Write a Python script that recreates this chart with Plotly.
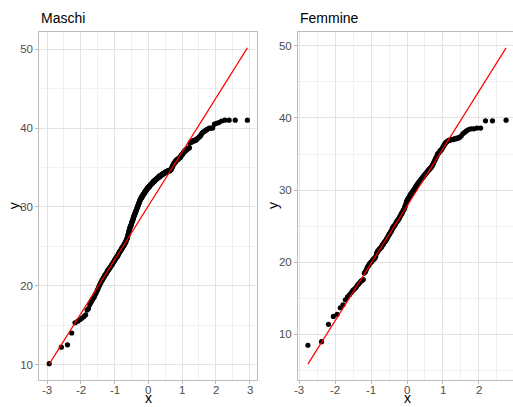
import numpy as np
import plotly.graph_objects as go
from statistics import NormalDist

# Sample values (sorted) for the two groups
maschi = [
    10.1, 12.2, 12.5, 14.0, 15.3, 15.5, 15.7, 15.9, 16.1, 16.3,
    16.9, 17.1, 17.6, 17.9, 18.2, 18.4, 18.6, 18.9, 19.1, 19.4,
    19.6, 19.9, 20.1, 20.3, 20.5,
    20.7, 20.8, 21.0, 21.1, 21.3,
    21.4, 21.5, 21.6, 21.8, 21.9, 22.0, 22.1, 22.2, 22.3, 22.4,
    22.5, 22.6, 22.7, 22.8, 22.9, 23.0, 23.1, 23.2, 23.3, 23.4,
    23.5, 23.6, 23.6, 23.7, 23.8, 23.9, 24.0, 24.1, 24.2, 24.3,
    24.4, 24.4, 24.5, 24.6, 24.7, 24.8, 24.8, 24.9, 25.0, 25.1,
    25.1, 25.2, 25.3, 25.4, 25.5, 25.5, 25.7, 25.8, 25.9, 26.0,
    26.1, 26.3, 26.5, 26.6, 26.8, 27.0, 27.1, 27.3, 27.4, 27.5,
    27.6, 27.7, 27.8, 28.0, 28.1, 28.2, 28.3, 28.4, 28.6, 28.7,
    28.8, 28.9, 29.0, 29.1, 29.2, 29.3, 29.4, 29.5, 29.6, 29.7,
    29.8, 29.9, 30.0, 30.1, 30.2, 30.3, 30.4, 30.5, 30.6, 30.7,
    30.8, 30.9, 31.0, 31.0, 31.1, 31.2, 31.2, 31.3, 31.3, 31.4,
    31.5, 31.5, 31.6, 31.6, 31.7, 31.7, 31.8, 31.9, 31.9, 32.0,
    32.0, 32.1, 32.1, 32.2, 32.2, 32.3, 32.3, 32.4, 32.4, 32.5,
    32.5, 32.5, 32.6, 32.6, 32.6, 32.7, 32.7, 32.8, 32.8, 32.9,
    32.9, 32.9, 33.0, 33.0, 33.0, 33.1, 33.1, 33.2, 33.2, 33.2,
    33.3, 33.3, 33.3, 33.4, 33.4, 33.4, 33.5, 33.5, 33.5, 33.6,
    33.6, 33.6, 33.7, 33.7, 33.7, 33.8, 33.8, 33.8, 33.9, 33.9,
    33.9, 33.9, 34.0, 34.0, 34.0, 34.0, 34.1, 34.1, 34.1, 34.2,
    34.2, 34.2, 34.2, 34.3, 34.3, 34.3, 34.3, 34.4, 34.4, 34.4,
    34.4, 34.4, 34.5, 34.5, 34.5, 34.5, 34.6, 34.6, 34.6, 34.6,
    34.6, 34.6, 34.7, 34.7, 34.7, 34.8, 34.9, 35.0, 35.1, 35.2,
    35.3, 35.4, 35.5, 35.5, 35.6, 35.7, 35.7, 35.8, 35.9, 35.9,
    36.0, 36.0, 36.0, 36.1, 36.1, 36.2, 36.2, 36.3, 36.3, 36.4,
    36.5, 36.6, 36.6, 36.7, 36.8, 36.9, 37.0, 37.0, 37.1, 37.2,
    37.2, 37.3, 37.3, 37.4, 37.4, 37.5, 37.5, 38.1, 38.2, 38.2,
    38.3, 38.3, 38.4, 38.4, 38.4, 38.5, 38.5, 38.6, 38.7, 38.8,
    38.9, 39.0, 39.2, 39.4, 39.5, 39.6, 39.7, 39.8, 39.9, 40.0,
    40.0, 40.0, 40.5, 40.6, 40.7, 40.9, 41.0, 41.0, 41.0, 41.0,
]

femmine = [
    8.5, 9.0, 11.4, 12.5, 12.8, 13.7, 14.1, 14.8, 15.2, 15.5,
    15.8, 16.1, 16.3, 16.5, 16.8, 17.0, 17.2, 17.4, 17.5, 17.6,
    18.5, 18.7, 19.0, 19.3, 19.5,
    19.7, 19.9, 20.0, 20.1, 20.3,
    20.4, 20.5, 20.6, 20.8, 21.2, 21.4, 21.6, 21.7, 21.8, 21.9,
    22.0, 22.1, 22.3, 22.4, 22.5, 22.7, 22.8, 22.9, 23.0, 23.2,
    23.3, 23.5, 23.6, 23.8, 23.9, 24.0, 24.2, 24.3, 24.4, 24.6,
    24.8, 24.9, 25.0, 25.1, 25.2, 25.3, 25.5, 25.6, 25.7, 25.8,
    25.9, 26.0, 26.1, 26.3, 26.4, 26.5, 26.7, 26.8, 26.9, 27.1,
    27.2, 27.3, 27.5, 27.7, 27.9, 28.1, 28.4, 28.5, 28.7, 28.8,
    28.9, 29.0, 29.1, 29.3, 29.4, 29.5, 29.6, 29.7, 29.8, 29.9,
    30.0, 30.1, 30.2, 30.3, 30.5, 30.6, 30.7, 30.8, 30.9, 31.0,
    31.1, 31.2, 31.3, 31.4, 31.5, 31.6, 31.7, 31.8, 31.9, 32.0,
    32.1, 32.2, 32.3, 32.4, 32.5, 32.6, 32.7, 32.8, 32.9, 33.0,
    33.1, 33.2, 33.3, 33.5, 33.7, 33.9, 34.1, 34.3, 34.5, 34.7,
    35.0, 35.1, 35.2, 35.4, 35.5, 35.6, 35.8, 36.0, 36.2, 36.4,
    36.6, 36.7, 36.8, 36.9, 36.9, 37.0, 37.0, 37.0, 37.1, 37.1,
    37.2, 37.2, 37.3, 37.5, 37.8, 38.0, 38.2, 38.4, 38.5, 38.5,
    38.6, 38.6, 39.6, 39.6, 39.7,
]

panel_titles = ["Maschi", "Femmine"]
x_ticks = [-3, -2, -1, 0, 1, 2, 3]
y_ticks = [10, 20, 30, 40, 50]

FONT = "Liberation Sans, Arial, sans-serif"
W, H = 513, 407


def ppoints(n):
    a = 3 / 8 if n <= 10 else 0.5
    return [(i + 1 - a) / (n + 1 - 2 * a) for i in range(n)]


def qq(sample):
    """Theoretical normal quantiles plus the quartile reference line."""
    y = np.sort(np.asarray(sample, dtype=float))
    nd = NormalDist()
    x = np.array([nd.inv_cdf(p) for p in ppoints(len(y))])
    q1, q3 = np.quantile(y, [0.25, 0.75])
    t1, t3 = nd.inv_cdf(0.25), nd.inv_cdf(0.75)
    slope = (q3 - q1) / (t3 - t1)
    intercept = q1 - slope * t1
    lx = np.array([x.min(), x.max()])
    ly = intercept + slope * lx
    return x, y, lx, ly


def expand(lo, hi, f=0.05):
    d = (hi - lo) * f
    return lo - d, hi + d


# panel geometry in pixels
top_px, bottom_px = 32, 380
panel_h = bottom_px - top_px
panel_w = 218
left_x0 = 39.3
right_x0 = 298

grid_major = "#e3e3e3"
grid_minor = "#f1f1f1"
border = "#bdbdbd"
tick_color = "#4d4d4d"
tickfont = dict(family=FONT, size=11.5, color=tick_color)

fig = go.Figure()
panels = [maschi, femmine]
for k, sample in enumerate(panels):
    x, y, lx, ly = qq(sample)
    xa = "x" if k == 0 else "x2"
    ya = "y" if k == 0 else "y2"
    fig.add_trace(go.Scatter(x=x, y=y, mode="markers", xaxis=xa, yaxis=ya,
                             marker=dict(color="black", size=5.2, line=dict(width=0)),
                             showlegend=False, hoverinfo="skip"))
    fig.add_trace(go.Scatter(x=lx, y=ly, mode="lines", xaxis=xa, yaxis=ya,
                             line=dict(color="#ff0000", width=1.2),
                             showlegend=False, hoverinfo="skip"))

    xr = expand(x.min(), x.max())
    yr = expand(min(y.min(), ly.min()), max(y.max(), ly.max()))
    x0 = left_x0 if k == 0 else right_x0
    x1 = min(x0 + panel_w, W)
    vis = (x1 - x0) / panel_w
    xr_vis = [xr[0], xr[0] + vis * (xr[1] - xr[0])]

    xaxis = dict(
        domain=[x0 / W, x1 / W], range=xr_vis, anchor=ya,
        tickvals=x_ticks, showticklabels=False,
        showgrid=True, gridcolor=grid_major, gridwidth=1,
        minor=dict(tickvals=[v + 0.5 for v in [-4] + x_ticks],
                   showgrid=True, gridcolor=grid_minor, gridwidth=1),
        zeroline=False, showline=True, linecolor=border, linewidth=1,
        mirror=True, ticks="outside", ticklen=3, tickcolor=border,
    )
    yaxis = dict(
        domain=[1 - bottom_px / H, 1 - top_px / H], range=list(yr), anchor=xa,
        tickvals=y_ticks, ticktext=[str(v) for v in y_ticks],
        showgrid=True, gridcolor=grid_major, gridwidth=1,
        minor=dict(tickvals=[v - 5 for v in y_ticks],
                   showgrid=True, gridcolor=grid_minor, gridwidth=1),
        zeroline=False, showline=True, linecolor=border, linewidth=1,
        mirror=(k == 0), ticks="outside", ticklen=3, tickcolor=border,
        tickfont=tickfont,
    )
    if k == 0:
        fig.update_layout(xaxis=xaxis, yaxis=yaxis)
    else:
        fig.update_layout(xaxis2=xaxis, yaxis2=yaxis)

    # x tick labels, placed close under the panel
    for v in x_ticks:
        if xr_vis[0] <= v <= xr_vis[1]:
            fig.add_annotation(text=str(v), x=v, xref=xa,
                               y=-9.5 / panel_h, yref=f"{ya} domain",
                               xanchor="center", yanchor="middle",
                               showarrow=False, font=tickfont, borderpad=0)

    # panel title
    fig.add_annotation(text=panel_titles[k], x=x0 / W, y=1 - 18 / H,
                       xref="paper", yref="paper", xanchor="left",
                       yanchor="middle", showarrow=False,
                       font=dict(family=FONT, size=14, color="black"))
    # axis titles
    fig.add_annotation(text="x", x=(x0 + panel_w / 2) / W, y=0,
                       xref="paper", yref="paper", xanchor="center",
                       yanchor="bottom", showarrow=False, borderpad=0,
                       font=dict(family=FONT, size=14, color="black"))
    fig.add_annotation(text="y", x=(x0 - 25) / W, y=1 - 206 / H,
                       xref="paper", yref="paper", xanchor="center",
                       yanchor="middle", showarrow=False, textangle=-90,
                       font=dict(family=FONT, size=14, color="black"))

fig.update_layout(
    width=W, height=H, margin=dict(l=0, r=0, t=0, b=0),
    paper_bgcolor="white", plot_bgcolor="white",
)

fig.write_html("out.html")
